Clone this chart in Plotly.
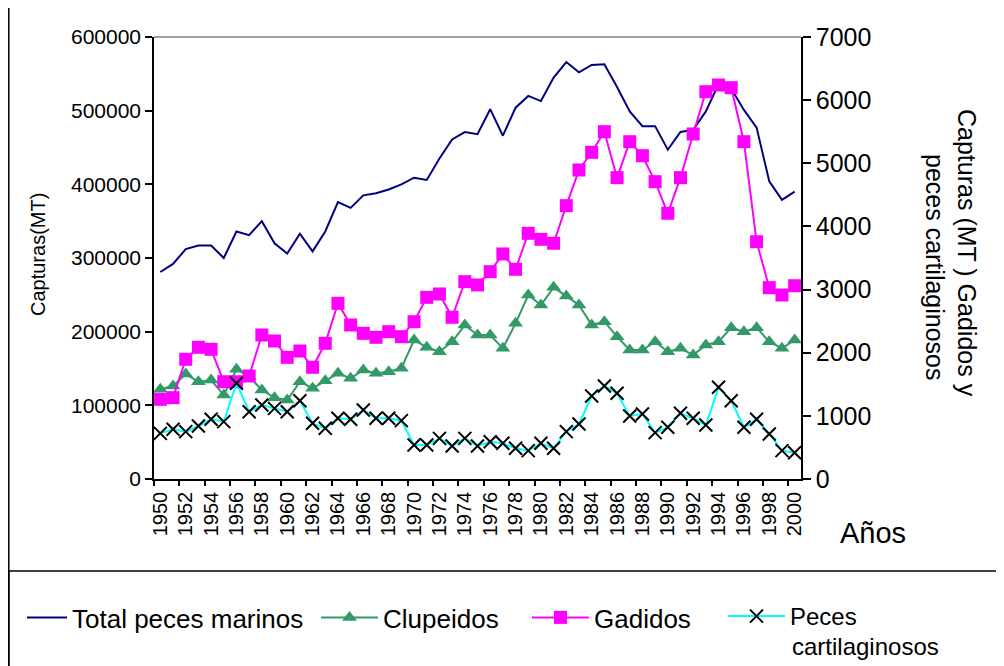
import plotly.graph_objects as go

years = list(range(1950, 2001))
total_peces = [281000, 292000, 312000, 317000, 317000, 300000, 336000, 331000, 350000, 320000,
               306000, 333000, 309000, 336000, 376000, 368000, 385000, 388000, 393000, 400000,
               409000, 406000, 435000, 461000, 471000, 468000, 502000, 466000, 504000, 520000,
               513000, 545000, 566000, 552000, 562000, 563000, 532000, 499000, 479000, 479000,
               447000, 471000, 474000, 499000, 536000, 530000, 501000, 477000, 404000, 379000,
               390000]
clupeidos = [121800, 126200, 142500, 132100, 134400, 114000, 148900, 138900, 120800, 110400,
             107200, 132100, 123100, 133400, 143500, 136700, 148000, 143500, 145700, 150300,
             188700, 178800, 172800, 186400, 209000, 195500, 195500, 177400, 211300, 249800,
             236200, 260200, 248400, 236200, 209000, 213500, 193200, 175100, 175100, 186400,
             172800, 177400, 168300, 181900, 186400, 205400, 200000, 205400, 186400, 177400,
             188700]
gadidos = [1262, 1288, 1896, 2086, 2054, 1541, 1541, 1631, 2281, 2186,
           1927, 2027, 1769, 2149, 2782, 2439, 2307, 2244, 2333, 2254,
           2491, 2877, 2930, 2561, 3125, 3073, 3283, 3564, 3321, 3891,
           3796, 3733, 4329, 4894, 5174, 5500, 4772, 5342, 5120, 4709,
           4208, 4772, 5464, 6134, 6240, 6197, 5342, 3758, 3030, 2914,
           3061]
cartilaginosos = [723, 787, 750, 839, 945, 909, 1516, 1066, 1172, 1119,
                  1066, 1240, 882, 803, 961, 945, 1093, 961, 961, 924,
                  538, 538, 644, 523, 644, 523, 591, 565, 486, 449,
                  565, 486, 750, 871, 1315, 1473, 1357, 998, 1029, 734,
                  819, 1040, 961, 855, 1452, 1240, 819, 945, 713, 449,
                  417]
tick_years = list(range(1950, 2001, 2))
boundary_ticks = [y - 0.5 for y in tick_years]

FONT = "Liberation Sans, Arial, sans-serif"
OFF = 8  # page body margin
W, H = 1004 - OFF, 666 - OFF
# plot area in page pixels
L, R, T, B = 154 - OFF, 801 - OFF, 37 - OFF, 479 - OFF


def px(x):  # page pixel -> paper x
    return (x - OFF - L) / (R - L)


def py(y):  # page pixel -> paper y
    return (B - (y - OFF)) / (B - T)


def cx(x):  # page pixel -> container x
    return (x - OFF) / W


def cy(y):  # page pixel -> container y
    return 1 - (y - OFF) / H


fig = go.Figure()
fig.add_trace(go.Scatter(x=years, y=total_peces, mode="lines", name="Total peces marinos",
                         line=dict(color="#000080", width=2), legend="legend"))
fig.add_trace(go.Scatter(x=years, y=clupeidos, mode="lines+markers", name="Clupeidos",
                         line=dict(color="#339966", width=2),
                         marker=dict(symbol="triangle-up", size=13, color="#339966"),
                         legend="legend2"))
fig.add_trace(go.Scatter(x=years, y=gadidos, mode="lines+markers", name="Gadidos", yaxis="y2",
                         line=dict(color="#FF00FF", width=2),
                         marker=dict(symbol="square", size=13, color="#FF00FF"),
                         legend="legend3"))
fig.add_trace(go.Scatter(x=years, y=cartilaginosos, mode="lines+markers",
                         name="Peces", yaxis="y2",
                         line=dict(color="#00FFFF", width=2),
                         marker=dict(symbol="x-thin", size=13, color="black",
                                     line=dict(color="black", width=2)),
                         legend="legend4"))

LEGFONT = 26
leg_common = dict(xref="container", yref="container", xanchor="left", yanchor="top",
                  orientation="h", font=dict(family=FONT, size=LEGFONT, color="black"),
                  bgcolor="rgba(0,0,0,0)", itemwidth=57, valign="top")
leg_top = cy(594)


def ann(text, x, y, size, angle=0, xanchor="center"):
    return dict(text=text, xref="paper", yref="paper", x=px(x), y=py(y), textangle=angle,
                xanchor=xanchor, yanchor="middle", showarrow=False,
                font=dict(size=size, family=FONT, color="black"))


fig.update_layout(
    width=W, height=H,
    margin=dict(l=L, r=W - R, t=T, b=H - B, pad=0),
    paper_bgcolor="white", plot_bgcolor="white",
    font=dict(family=FONT, color="black"),
    showlegend=True,
    legend=dict(leg_common, x=cx(72 - 50), y=leg_top, itemwidth=40),
    legend2=dict(leg_common, x=cx(383 - 67), y=leg_top),
    legend3=dict(leg_common, x=cx(594 - 67), y=leg_top),
    legend4=dict(leg_common, x=cx(790 - 67), y=leg_top, font=dict(family=FONT, size=24, color="black")),
    xaxis=dict(range=[1949.5, 2000.5], tickvals=tick_years, ticktext=[str(y) for y in tick_years],
               tickangle=-90, ticks="", tickfont=dict(size=20, family=FONT), ticklabelstandoff=3,
               showline=True, linecolor="black", linewidth=1.5, showgrid=False, zeroline=False,
               minor=dict(tickvals=boundary_ticks, ticks="outside", ticklen=5,
                          tickcolor="black", tickwidth=1.5, showgrid=False)),
    yaxis=dict(range=[0, 600000], dtick=100000, tickformat="d", ticks="outside", ticklen=7,
               tickcolor="black", tickwidth=1.5, tickfont=dict(size=21, family=FONT),
               showline=True, linecolor="black", linewidth=1.5, showgrid=False, zeroline=False),
    yaxis2=dict(range=[0, 7000], dtick=1000, tickformat="d", overlaying="y", side="right",
                ticks="outside", ticklen=8, tickcolor="black", tickwidth=1.5,
                tickfont=dict(size=25, family=FONT),
                showline=True, linecolor="black", linewidth=1.5, showgrid=False, zeroline=False),
    shapes=[
        dict(type="line", xref="paper", yref="paper", x0=0, x1=1, y0=1, y1=1,
             line=dict(color="#808080", width=1.5)),
        dict(type="line", xref="paper", yref="paper", x0=px(8.8), x1=px(8.8), y0=py(0), y1=py(680),
             line=dict(color="black", width=1.5)),
        dict(type="rect", xref="paper", yref="paper", x0=px(8.8), x1=px(999), y0=py(571), y1=py(690),
             line=dict(color="black", width=1.5)),
    ],
    annotations=[
        ann("Capturas(MT)", 38, 255, 20, angle=-90),
        ann("Capturas (MT ) Gadidos y", 967, 253, 25, angle=90),
        ann("peces cartilaginosos", 935, 267, 25, angle=90),
        ann("Años", 873, 533, 29),
        ann("cartilaginosos", 790, 646, 24, xanchor="left"),
    ],
)

fig.write_html("out.html")
